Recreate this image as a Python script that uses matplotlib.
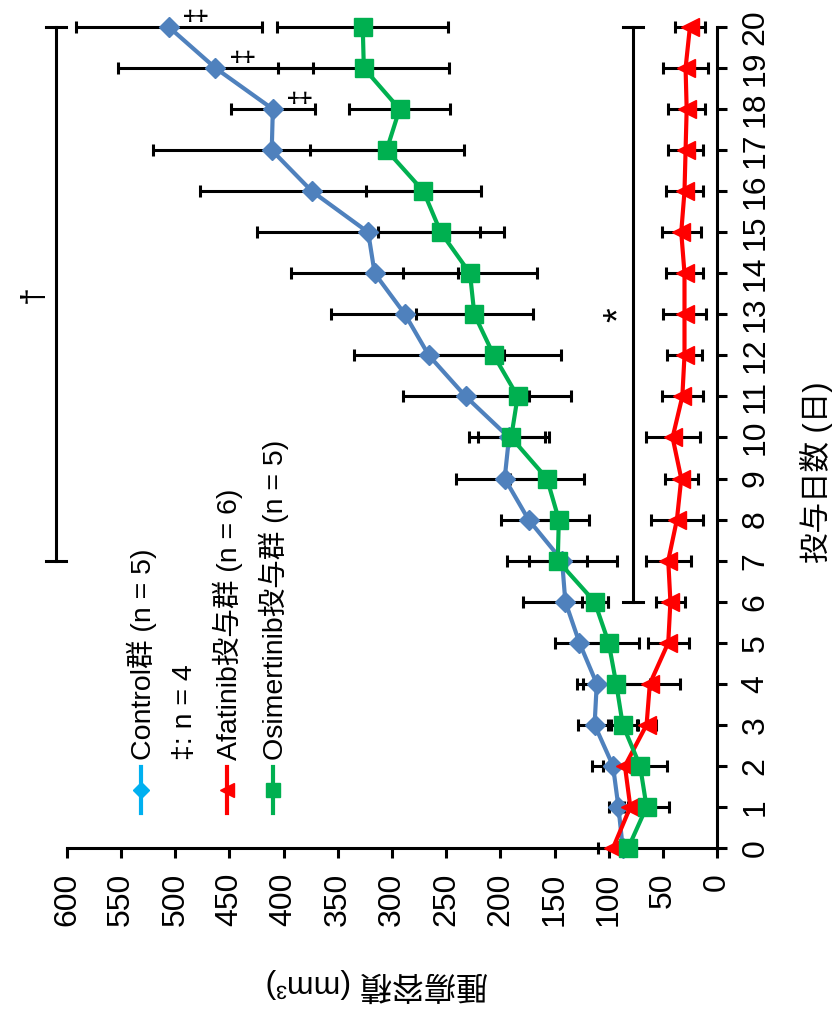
import matplotlib
matplotlib.use('Agg')
import matplotlib.pyplot as plt

plt.rcParams['font.family'] = ['Liberation Sans', 'Noto Sans CJK JP', 'DejaVu Sans']

# ---------------- data ----------------
days = list(range(21))
control = [87, 91, 96, 113, 111, 127, 140, 143, 174, 196, 192, 232, 266, 288, 316, 322, 374, 411, 410, 463, 506]
control_err = [5, 9, 19, 15, 18, 23, 39, 51, 25, 45, 37, 58, 69, 68, 77, 103, 103, 110, 39, 90, 86]
afatinib = [96, 80, 85, 65, 62, 45, 43, 45, 37, 33, 41, 32, 30, 30, 30, 33, 30, 29, 28, 29, 25]
afatinib_err = [14, 10, 20, 9, 28, 19, 13, 21, 24, 15, 25, 19, 16, 20, 17, 18, 17, 16, 17, 21, 14]
osimertinib = [82, 65, 71, 87, 93, 100, 113, 147, 146, 157, 190, 184, 206, 224, 228, 255, 271, 305, 293, 326, 327]
osimertinib_err = [5, 21, 25, 14, 31, 28, 12, 27, 28, 34, 31, 49, 62, 54, 62, 58, 53, 71, 47, 79, 79]

legend_labels = ['Control群 (n = 5)', '‡: n = 4', 'Afatinib投与群 (n = 6)', 'Osimertinib投与群 (n = 5)']
xlabel_text = '投与日数 (日)'
ylabel_text = '腫瘍容積 (mm³)'
vol_ticks = list(range(0, 601, 50))

n4_days = [18, 19, 20]          # control days marked with ‡
dagger_bracket = (7, 20, 610)   # day start, day end, volume level
star_bracket = (6, 20, 77.5)

# ---------------- figure ----------------
W, H = 834, 1009
fig = plt.figure(figsize=(W / 100, H / 100), dpi=100)
ax = fig.add_axes([67 / W, 1 - 848 / H, (717 - 67) / W, (848 - 27) / H])
ax.set_xlim(600, 0)
ax.set_ylim(0, 20)
for s in ['top', 'left']:
    ax.spines[s].set_visible(False)
for s in ['bottom', 'right']:
    ax.spines[s].set_linewidth(2.2)
ax.yaxis.tick_right()
ax.set_xticks(vol_ticks)
ax.set_yticks(days)
ax.tick_params(axis='both', direction='out', length=7, width=2.2, labelsize=23, color='black')
ax.tick_params(axis='x', labelrotation=90, pad=11)
ax.tick_params(axis='y', labelrotation=90, pad=10)
for t in ax.get_yticklabels():
    t.set_va('center')

blue, red, green = '#4F81BD', '#FF0000', '#00B050'

for vals, errs in [(control, control_err), (afatinib, afatinib_err), (osimertinib, osimertinib_err)]:
    ax.errorbar(vals, days, xerr=errs, fmt='none', ecolor='black', elinewidth=2.2,
                capsize=4.5, capthick=2.2, zorder=2, clip_on=False)

ax.plot(control, days, color=blue, lw=3, marker='D', ms=10.5, zorder=3, clip_on=False)
ax.plot(afatinib, days, color=red, lw=3, marker='<', ms=13, zorder=3, clip_on=False)
ax.plot(osimertinib, days, color=green, lw=3, marker='s', ms=13, zorder=3, clip_on=False)

# ‡ markers (n = 4) near control points
for d in n4_days:
    ax.text(control[d] - 26, d + 0.35, '‡', rotation=90, ha='center', va='center', fontsize=21)

# significance brackets
cap = 9
for (d0, d1, v), sym, sym_off, fs in [(dagger_bracket, '†', 21, 23), (star_bracket, '*', 12, 27)]:
    ax.plot([v, v], [d0, d1], color='black', lw=2.2, clip_on=False, zorder=2)
    for d in (d0, d1):
        ax.plot([v - cap, v + cap], [d, d], color='black', lw=2.2, clip_on=False, zorder=2)
    ax.text(v + sym_off, (d0 + d1) / 2, sym, rotation=90, ha='center', va='center', fontsize=fs)

# ---------------- overlay in pixel coords ----------------
ov = fig.add_axes([0, 0, 1, 1])
ov.set_xlim(0, W)
ov.set_ylim(H, 0)
ov.axis('off')

leg_x = [141, 184, 227, 273]
leg_colors = ['#00B0F0', None, red, green]
leg_markers = ['D', None, '<', 's']
leg_ms = [8, None, 10, 10]
for x, c, m, ms, lab in zip(leg_x, leg_colors, leg_markers, leg_ms, legend_labels):
    if c is not None:
        ov.plot([x, x], [767, 813], color=c, lw=3)
        ov.plot([x], [790], color=c, marker=m, ms=ms)
    ov.text(x + 1, 760, lab, rotation=90, ha='center', va='bottom', fontsize=20.5)

ov.text(817, 472, xlabel_text, rotation=90, ha='center', va='center', fontsize=22)
ov.text(377, 985, ylabel_text, rotation=180, ha='center', va='center', fontsize=23)

fig.savefig('out.png', dpi=100)
